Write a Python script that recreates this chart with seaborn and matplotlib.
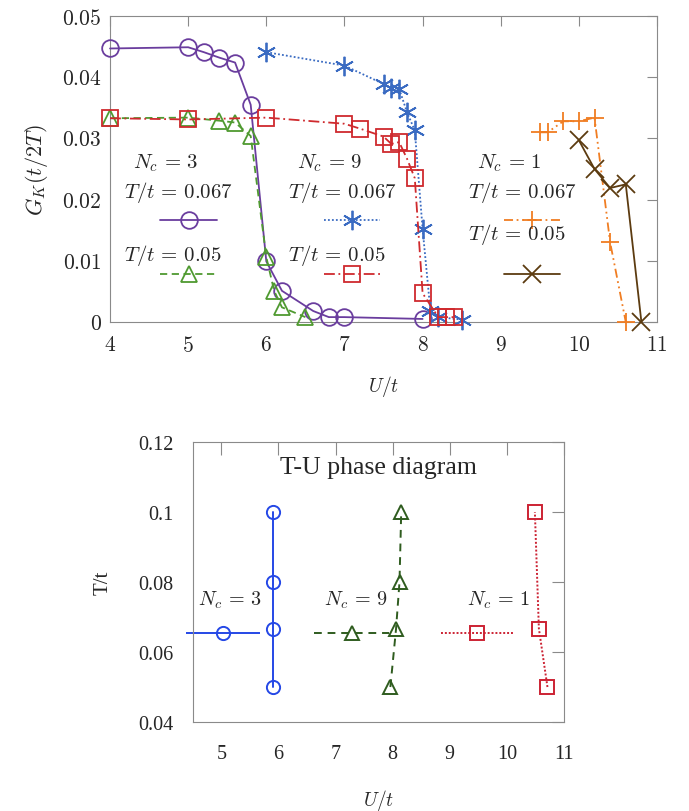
import numpy as np
import pandas as pd
import matplotlib
matplotlib.use("Agg")
import matplotlib.pyplot as plt
from matplotlib.ticker import FuncFormatter
import seaborn as sns

# --- top panel: G_K(t/2T) vs U/t ---
u_nc3_t067 = [4.0, 5.0, 5.2, 5.4, 5.6, 5.8, 6.0, 6.2, 6.6, 6.8, 7.0, 8.0]
g_nc3_t067 = [0.0447, 0.0449, 0.0441, 0.0432, 0.0424, 0.0355, 0.0099, 0.0051, 0.0018, 0.0008, 0.0008, 0.0005]

u_nc3_t05 = [4.0, 5.0, 5.4, 5.6, 5.8, 6.0, 6.1, 6.2, 6.5]
g_nc3_t05 = [0.0333, 0.0334, 0.0329, 0.0326, 0.0304, 0.0106, 0.0051, 0.0024, 0.0008]

u_nc9_t067 = [6.0, 7.0, 7.5, 7.6, 7.7, 7.8, 7.9, 8.0, 8.1, 8.2, 8.5]
g_nc9_t067 = [0.0441, 0.0419, 0.0389, 0.0382, 0.0381, 0.0343, 0.0313, 0.0152, 0.0018, 0.0008, 0.0004]

u_nc9_t05 = [4.0, 5.0, 6.0, 7.0, 7.2, 7.5, 7.6, 7.7, 7.8, 7.9, 8.0, 8.2, 8.3, 8.4]
g_nc9_t05 = [0.0333, 0.0331, 0.0334, 0.0324, 0.0316, 0.0303, 0.0291, 0.0294, 0.0267, 0.0235, 0.0047, 0.0008, 0.0008, 0.0008]

u_nc1_t067 = [9.5, 9.6, 9.8, 10.0, 10.2, 10.4, 10.6]
g_nc1_t067 = [0.0310, 0.0310, 0.0328, 0.0328, 0.0334, 0.0130, 0.0]

u_nc1_t05 = [10.0, 10.2, 10.4, 10.6, 10.8]
g_nc1_t05 = [0.0297, 0.0250, 0.0219, 0.0225, 0.0]

top_xticks = [4, 5, 6, 7, 8, 9, 10, 11]
top_yticks = [0, 0.01, 0.02, 0.03, 0.04, 0.05]

# --- bottom panel: T-U phase diagram ---
pd_t = [0.05, 0.0667, 0.08, 0.1]
pd_u_nc3 = [5.9, 5.9, 5.9, 5.9]
pd_u_nc9 = [7.96, 8.06, 8.12, 8.15]
pd_t_nc1 = [0.05, 0.0667, 0.1]
pd_u_nc1 = [10.71, 10.56, 10.49]

# horizontal bracket points: centre, half-width, temperature
br_u = [5.03, 7.28, 9.47]
br_half = [0.64, 0.66, 0.63]
br_t = [0.0655, 0.0655, 0.0655]

bot_xticks = [5, 6, 7, 8, 9, 10, 11]
bot_yticks = [0.04, 0.06, 0.08, 0.1, 0.12]

sns.set_style("white")
plt.rcParams["mathtext.fontset"] = "cm"
plt.rcParams["font.family"] = ["Liberation Serif", "DejaVu Serif"]

GRAY = "#8a8a8a"
PURPLE, BLUE, RED = "#6a3d9e", "#3a6bc2", "#cf2a2e"
GREEN, ORANGE, BROWN = "#4f9a30", "#f07d22", "#5c3b10"

top_series = [
    (u_nc3_t067, g_nc3_t067, PURPLE, "o", "-", 12),
    (u_nc3_t05, g_nc3_t05, GREEN, "^", (0, (4, 2.5)), 12),
    (u_nc9_t067, g_nc9_t067, BLUE, (6, 2, 0), (0, (1, 1.2)), 14),
    (u_nc9_t05, g_nc9_t05, RED, "s", (0, (6, 2, 1, 2)), 12),
    (u_nc1_t067, g_nc1_t067, ORANGE, "+", (0, (5, 2, 1, 2, 1, 2)), 13),
    (u_nc1_t05, g_nc1_t05, BROWN, "x", "-", 13),
]

fig = plt.figure(figsize=(6.89, 8.12), dpi=100)
ax1 = fig.add_axes([0.1597, 0.6022, 0.7939, 0.3768])
ax2 = fig.add_axes([0.2797, 0.1096, 0.5389, 0.3448])

for xs, ys, c, m, ls, ms in top_series:
    df = pd.DataFrame({"U": xs, "G": ys})
    sns.lineplot(data=df, x="U", y="G", ax=ax1, sort=False, estimator=None,
                 color=c, linestyle=ls, linewidth=1.3, marker=m, markersize=ms,
                 markerfacecolor="none", markeredgecolor=c, markeredgewidth=1.3,
                 clip_on=False, zorder=3)

ax1.set_xlim(4, 11)
ax1.set_ylim(0, 0.05)
ax1.set_xticks(top_xticks)
ax1.set_yticks(top_yticks)
mfmt = FuncFormatter(lambda v, p: f"${v:g}$")
ax1.xaxis.set_major_formatter(mfmt)
ax1.yaxis.set_major_formatter(mfmt)
ax1.tick_params(axis="x", direction="in", length=7, color=GRAY, top=True, labelsize=15.5, pad=10)
ax1.tick_params(axis="y", direction="in", length=7, color=GRAY, right=True, labelsize=15.5, pad=6)
ax1.set_xlabel("$U/t$", fontsize=14, labelpad=12)
ax1.set_ylabel("$G_K(t/2T)$", fontsize=16, labelpad=9)

# legend-style labels, in three groups
groups = [
    (0.026, 0.042, r"$N_c\, =\, 3$", 0, 1, 0.222),
    (0.325, 0.342, r"$N_c\, =\, 9$", 2, 3, 0.222),
    (0.654, 0.671, r"$N_c\, =\, 1$", 4, 5, 0.288),
]
for tx, nx, title, i1, i2, y2 in groups:
    ax1.text(nx, 0.523, title, transform=ax1.transAxes, fontsize=15, va="center")
    ax1.text(tx, 0.425, r"$T/t\, =\, 0.067$", transform=ax1.transAxes, fontsize=15, va="center")
    ax1.text(tx, y2, r"$T/t\, =\, 0.05$", transform=ax1.transAxes, fontsize=15, va="center")
    for idx, yy in ((i1, 0.333), (i2, 0.157)):
        _, _, c, m, ls, ms = top_series[idx]
        x0 = tx + 0.066
        ax1.plot([x0, x0 + 0.103], [yy, yy], transform=ax1.transAxes, color=c,
                 linestyle=ls, linewidth=1.3)
        ax1.plot([x0 + 0.0515], [yy], transform=ax1.transAxes, color=c, marker=m,
                 markersize=ms, markerfacecolor="none", markeredgecolor=c,
                 markeredgewidth=1.3)

for s in ax1.spines.values():
    s.set_color(GRAY)

# --- bottom panel ---
BLUE2, GREEN2, RED2 = "#2548e6", "#2f5c1f", "#cc2233"
bot_series = [
    (pd_u_nc3, pd_t, BLUE2, "o", "-", 9.5),
    (pd_u_nc9, pd_t, GREEN2, "^", (0, (4, 3)), 9.5),
    (pd_u_nc1, pd_t_nc1, RED2, "s", (0, (1, 1)), 9.5),
]
for i, (xs, ys, c, m, ls, ms) in enumerate(bot_series):
    df = pd.DataFrame({"U": xs, "T": ys})
    sns.lineplot(data=df, x="U", y="T", ax=ax2, sort=False, estimator=None,
                 color=c, linestyle=ls, linewidth=1.4, marker=m, markersize=ms,
                 markerfacecolor="none", markeredgecolor=c, markeredgewidth=1.4)
    eb = ax2.errorbar([br_u[i]], [br_t[i]], xerr=[br_half[i]], fmt=m, color=c,
                      markersize=ms, markerfacecolor="none", markeredgecolor=c,
                      markeredgewidth=1.4, elinewidth=1.4, capsize=0, clip_on=False)
    for lc in eb[2]:
        lc.set_linestyle(ls)
        lc.set_clip_on(False)

ax2.text(4.59, 0.0751, r"$N_c\, =\, 3$", fontsize=14.5, va="center")
ax2.text(6.79, 0.0751, r"$N_c\, =\, 9$", fontsize=14.5, va="center")
ax2.text(9.31, 0.0751, r"$N_c\, =\, 1$", fontsize=14.5, va="center")
ax2.text(0.5, 0.91, "T-U phase diagram", transform=ax2.transAxes, fontsize=18.5,
         ha="center", va="center")

ax2.set_xlim(4.5, 11)
ax2.set_ylim(0.04, 0.12)
ax2.set_xticks(bot_xticks)
ax2.set_yticks(bot_yticks)
ax2.set_yticklabels([f"{v:g}" for v in bot_yticks])
ax2.tick_params(axis="x", direction="in", length=9, color=GRAY, top=True, labelsize=14.5, pad=16)
ax2.tick_params(axis="y", direction="in", length=9, color=GRAY, right=True, labelsize=14.5, pad=14)
ax2.set_xlabel("$U/t$", fontsize=14, labelpad=17)
ax2.set_ylabel("T/t", fontsize=15, labelpad=18)
for s in ax2.spines.values():
    s.set_color(GRAY)

fig.savefig("out.png", dpi=100)
